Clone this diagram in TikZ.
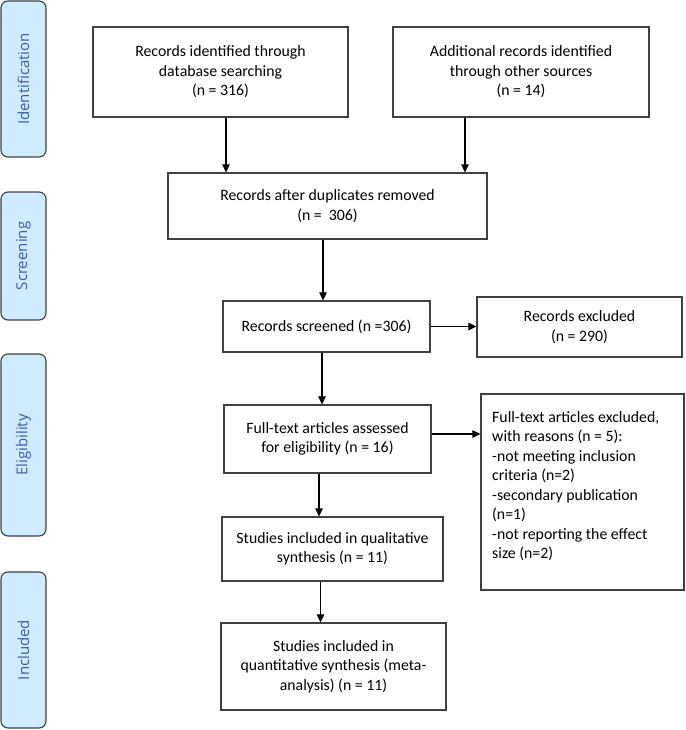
\documentclass[tikz,border=0pt]{standalone}
\usepackage{fontspec}
\setmainfont{Carlito}
\newfontfamily\sidefont{Open Sans}
\usetikzlibrary{arrows.meta}
\definecolor{sidefill}{RGB}{206,235,255}
\definecolor{sidetext}{RGB}{58,95,168}
\definecolor{boxline}{RGB}{64,64,64}
\begin{document}
\begin{tikzpicture}[x=1pt,y=-1pt,
  box/.style={draw=boxline, line width=1.2pt, fill=white, inner sep=0pt,
    font=\fontsize{15.8}{19.5}\selectfont, align=center},
  gtext/.style={inner sep=0pt, anchor=north west, align=left,
    font=\fontsize{15.8}{19.5}\selectfont},
  side/.style={draw=boxline, line width=1.1pt, fill=sidefill, rounded corners=7pt,
    rotate=90, inner sep=0pt, minimum height=45pt, text=sidetext,
    font=\sidefont\fontsize{15}{18}\selectfont},
  arr/.style={line width=1.1pt, -{Triangle[length=8pt,width=7.5pt]}}]
\useasboundingbox (0,0) rectangle (685,730);

% phase labels
\node[side, minimum width=156pt] (s1) at (23.5,79) {Identification};
\node[side, minimum width=128pt] (s2) at (23.5,256) {Screening};
\node[side, minimum width=182pt] (s3) at (23.5,445) {Eligibility};
\node[side, minimum width=156pt] (s4) at (23.5,650) {Included};

% boxes
\node[box, minimum width=255pt, minimum height=90pt] (A) at (220.5,72)
  {Records identified through\\database searching\\(n = 316)};
\node[box, minimum width=256pt, minimum height=90pt] (B) at (521,72)
  {Additional records identified\\through other sources\\(n = 14)};
\node[box, minimum width=319pt, minimum height=66pt] (C) at (327.5,206)
  {Records after duplicates removed\\(n = \ 306)};
\node[box, minimum width=207pt, minimum height=51pt] (D) at (326.5,326.5)
  {Records screened (n =306)};
\node[box, minimum width=205pt, minimum height=60pt] (E) at (579.5,327)
  {Records excluded\\(n = 290)};
\node[box, minimum width=207pt, minimum height=68pt] (F) at (327.5,439)
  {Full-text articles assessed\\for eligibility (n = 16)};
\node[box, minimum width=203pt, minimum height=196pt] (G) at (582.5,492) {};
\node[gtext] (Gt) at (492,411)
  {Full-text articles excluded,\\with reasons (n = 5):\\-not meeting inclusion\\criteria (n=2)\\-secondary publication\\(n=1)\\-not reporting the effect\\size (n=2)};
\node[box, minimum width=221pt, minimum height=64pt] (H) at (332.5,549)
  {Studies included in qualitative\\synthesis (n = 11)};
\node[box, minimum width=225pt, minimum height=87pt] (I) at (333.5,666.5)
  {Studies included in\\quantitative synthesis (meta-\\analysis) (n = 11)};

% connectors
\draw[arr] ([xshift=5.5pt]A.south) -- ([xshift=5.5pt]A.south |- C.north);
\draw[arr] ([xshift=-56pt]B.south) -- ([xshift=-56pt]B.south |- C.north);
\draw[arr] ([xshift=-4.5pt]C.south) -- ([xshift=-4.5pt]C.south |- D.north);
\draw[arr] (D.east) -- (D.east -| E.west);
\draw[arr] ([xshift=-4.5pt]D.south) -- ([xshift=-4.5pt]D.south |- F.north);
\draw[arr] ([yshift=5pt]F.east) -- ([yshift=5pt]F.east -| G.west);
\draw[arr] ([xshift=-8.5pt]F.south) -- ([xshift=-8.5pt]F.south |- H.north);
\draw[arr] ([xshift=-12pt]H.south) -- ([xshift=-12pt]H.south |- I.north);
\end{tikzpicture}
\end{document}
